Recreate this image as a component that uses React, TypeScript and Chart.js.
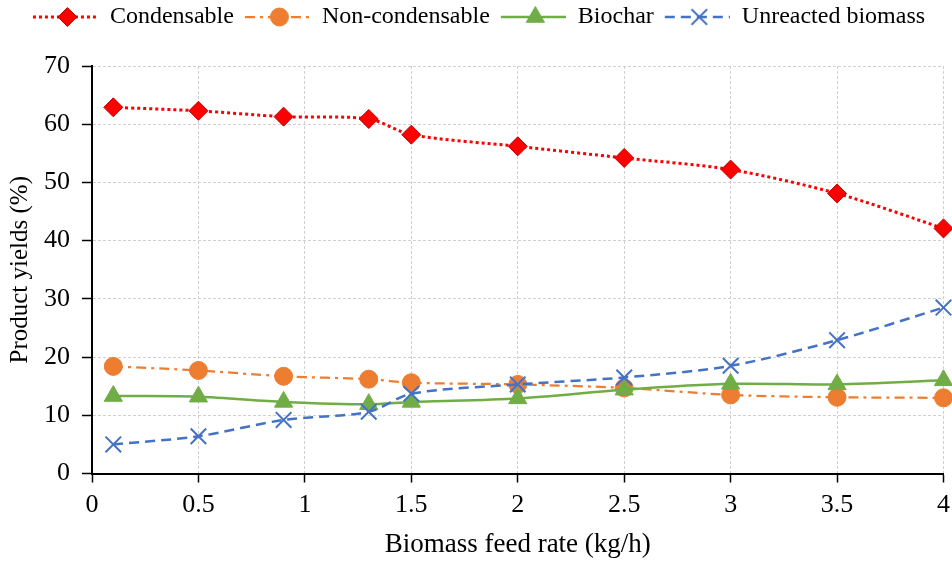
import React, { useEffect, useRef } from 'react';
import { Chart, registerables } from 'chart.js';

Chart.register(...registerables);

// ---- data ----
const feedRates = [0.1, 0.5, 0.9, 1.3, 1.5, 2, 2.5, 3, 3.5, 4];
const condensable = [62.9, 62.3, 61.3, 60.9, 58.2, 56.2, 54.2, 52.2, 48.1, 42.1];
const nonCondensable = [18.4, 17.7, 16.7, 16.2, 15.6, 15.3, 14.7, 13.5, 13.1, 13.0];
const biochar = [13.3, 13.2, 12.3, 11.9, 12.3, 12.9, 14.4, 15.4, 15.3, 16.0];
const unreacted = [5.0, 6.4, 9.2, 10.6, 13.7, 15.3, 16.5, 18.5, 22.9, 28.5];
const seriesNames = ['Condensable', 'Non-condensable', 'Biochar', 'Unreacted biomass'];
const xTickValues = [0, 0.5, 1, 1.5, 2, 2.5, 3, 3.5, 4];
const xTickLabels = ['0', '0.5', '1', '1.5', '2', '2.5', '3', '3.5', '4'];
const yTickValues = [0, 10, 20, 30, 40, 50, 60, 70];
const yTickLabels = ['0', '10', '20', '30', '40', '50', '60', '70'];
const xTitle = 'Biomass feed rate (kg/h)';
const yTitle = 'Product yields (%)';

const FONT = "'Liberation Serif', 'Times New Roman', serif";
const PLOT_RIGHT_MARGIN = 8.5;

type Style = {
  color: string;
  border: string;
  dash: number[];
  width: number;
  pointStyle: string;
  radius: number;
  pbw: number;
  fill: string;
};

const styles: Style[] = [
  { color: '#FF0000', border: '#C00000', dash: [3, 3], width: 3, pointStyle: 'rectRot', radius: 9.5, pbw: 1, fill: '#FF0000' },
  { color: '#ED7D31', border: '#ED7D31', dash: [10, 5, 3, 5], width: 2.25, pointStyle: 'circle', radius: 9, pbw: 1, fill: '#ED7D31' },
  { color: '#70AD47', border: '#70AD47', dash: [], width: 2.5, pointStyle: 'triangle', radius: 10.5, pbw: 1, fill: '#70AD47' },
  { color: '#4472C4', border: '#4472C4', dash: [10, 6], width: 2.5, pointStyle: 'crossRot', radius: 11, pbw: 2, fill: '#4472C4' },
];

const LEG_MARGIN = 6;
const LEG_SAMPLE = 65;

function drawMarker(ctx: CanvasRenderingContext2D, s: Style, x: number, y: number) {
  const r = s.radius;
  ctx.fillStyle = s.fill;
  ctx.strokeStyle = s.border;
  ctx.lineWidth = s.pbw;
  ctx.beginPath();
  if (s.pointStyle === 'rectRot') {
    ctx.moveTo(x - r, y);
    ctx.lineTo(x, y - r);
    ctx.lineTo(x + r, y);
    ctx.lineTo(x, y + r);
    ctx.closePath();
    ctx.fill();
    ctx.stroke();
  } else if (s.pointStyle === 'circle') {
    ctx.arc(x, y, r, 0, Math.PI * 2);
    ctx.fill();
    ctx.stroke();
  } else if (s.pointStyle === 'triangle') {
    let a = 0;
    ctx.moveTo(x + Math.sin(a) * r, y - Math.cos(a) * r);
    a += (2 * Math.PI) / 3;
    ctx.lineTo(x + Math.sin(a) * r, y - Math.cos(a) * r);
    a += (2 * Math.PI) / 3;
    ctx.lineTo(x + Math.sin(a) * r, y - Math.cos(a) * r);
    ctx.closePath();
    ctx.fill();
    ctx.stroke();
  } else {
    const d = Math.SQRT1_2 * r;
    ctx.moveTo(x - d, y - d);
    ctx.lineTo(x + d, y + d);
    ctx.moveTo(x - d, y + d);
    ctx.lineTo(x + d, y - d);
    ctx.stroke();
  }
}

function makeSample(s: Style): HTMLCanvasElement {
  const c = document.createElement('canvas');
  c.width = LEG_MARGIN + LEG_SAMPLE;
  c.height = 24;
  const ctx = c.getContext('2d')!;
  ctx.strokeStyle = s.color;
  ctx.lineWidth = s.width;
  ctx.setLineDash(s.dash);
  ctx.beginPath();
  ctx.moveTo(LEG_MARGIN, 12);
  ctx.lineTo(LEG_MARGIN + LEG_SAMPLE, 12);
  ctx.stroke();
  ctx.setLineDash([]);
  drawMarker(ctx, s, LEG_MARGIN + LEG_SAMPLE / 2 + 2, 12);
  return c;
}

const legendSpacer = {
  id: 'legendSpacer',
  beforeLayout(chart: any) {
    const lg = chart.legend;
    if (lg && !lg._patchedFit) {
      const orig = lg.fit;
      lg.fit = function (this: any) {
        orig.call(this);
        this.height += 27;
      };
      lg._patchedFit = true;
    }
  },
  afterLayout(chart: any) {
    const R = chart.width - PLOT_RIGHT_MARGIN;
    const ca = chart.chartArea;
    ca.right = R;
    ca.width = R - ca.left;
    const xs = chart.scales.x;
    if (xs) {
      xs.right = R;
      xs.width = R - xs.left;
      xs.configure();
    }
  },
};

export default function App() {
  const ref = useRef<HTMLCanvasElement>(null);

  useEffect(() => {
    document.body.style.margin = '0';
    const allSeries = [condensable, nonCondensable, biochar, unreacted];
    const samples = styles.map(makeSample);
    const datasets = allSeries.map((vals, i) => {
      const s = styles[i];
      return {
        label: seriesNames[i],
        data: feedRates.map((x, j) => ({ x, y: vals[j] })),
        borderColor: s.color,
        borderWidth: s.width,
        borderDash: s.dash,
        backgroundColor: s.fill,
        pointStyle: s.pointStyle,
        pointRadius: s.radius,
        pointBackgroundColor: s.fill,
        pointBorderColor: s.border,
        pointBorderWidth: s.pbw,
        tension: 0.3,
        fill: false,
        clip: false,
        order: 4 - i,
      };
    });

    const chart = new Chart(ref.current!, {
      type: 'line',
      data: { datasets: datasets as any },
      plugins: [legendSpacer],
      options: {
        animation: false,
        responsive: true,
        maintainAspectRatio: false,
        layout: { padding: { left: 0, right: 0, top: 0, bottom: 0 } },
        plugins: {
          tooltip: { enabled: false },
          legend: {
            position: 'top',
            labels: {
              usePointStyle: true,
              pointStyleWidth: LEG_MARGIN + LEG_SAMPLE,
              boxHeight: 24,
              padding: 5,
              color: '#000',
              font: { family: FONT, size: 24 },
              sort: (a: any, b: any) => a.datasetIndex - b.datasetIndex,
              generateLabels: (ch: any) =>
                ch.data.datasets.map((d: any, i: number) => ({
                  text: d.label,
                  datasetIndex: i,
                  pointStyle: samples[i],
                  fillStyle: 'transparent',
                  strokeStyle: 'transparent',
                  lineWidth: 0,
                  hidden: false,
                  fontColor: '#000',
                })),
            },
          },
        },
        scales: {
          x: {
            type: 'linear',
            min: 0,
            max: 4,
            afterBuildTicks: (sc: any) => {
              sc.ticks = xTickValues.map((v) => ({ value: v }));
            },
            afterFit: (sc: any) => {
              sc.height = 87.5;
            },
            ticks: {
              color: '#000',
              font: { family: FONT, size: 26, lineHeight: 1.65 },
              padding: 1,
              maxRotation: 0,
              autoSkip: false,
              callback: (v: any) => {
                const idx = xTickValues.indexOf(Number(v));
                return idx >= 0 ? xTickLabels[idx] : '';
              },
            },
            grid: {
              color: '#D0D0D0',
              lineWidth: 1,
              tickColor: '#000',
              tickLength: 9,
              tickWidth: 1.5,
              tickBorderDash: [],
            },
            border: { display: true, color: '#000', width: 2, dash: [3, 2] },
            title: {
              display: true,
              text: xTitle,
              color: '#000',
              font: { family: FONT, size: 27 },
              padding: { top: 0, bottom: 0 },
            },
          },
          y: {
            type: 'linear',
            min: 0,
            max: 70,
            afterBuildTicks: (sc: any) => {
              sc.ticks = yTickValues.map((v) => ({ value: v }));
            },
            afterFit: (sc: any) => {
              sc.width = 92;
            },
            ticks: {
              color: '#000',
              font: { family: FONT, size: 26 },
              padding: 12,
              callback: (v: any) => {
                const idx = yTickValues.indexOf(Number(v));
                return idx >= 0 ? yTickLabels[idx] : '';
              },
            },
            grid: {
              color: '#D0D0D0',
              lineWidth: 1,
              tickColor: '#000',
              tickLength: 10,
              tickWidth: 1.5,
              tickBorderDash: [],
            },
            border: { display: true, color: '#000', width: 2, dash: [3, 2] },
            title: {
              display: true,
              text: yTitle,
              color: '#000',
              font: { family: FONT, size: 25 },
              padding: { top: 5, bottom: 0 },
            },
          },
        },
      },
    });
    return () => chart.destroy();
  }, []);

  return (
    <div style={{ position: 'relative', width: '952px', height: '561px' }}>
      <canvas ref={ref} />
    </div>
  );
}
